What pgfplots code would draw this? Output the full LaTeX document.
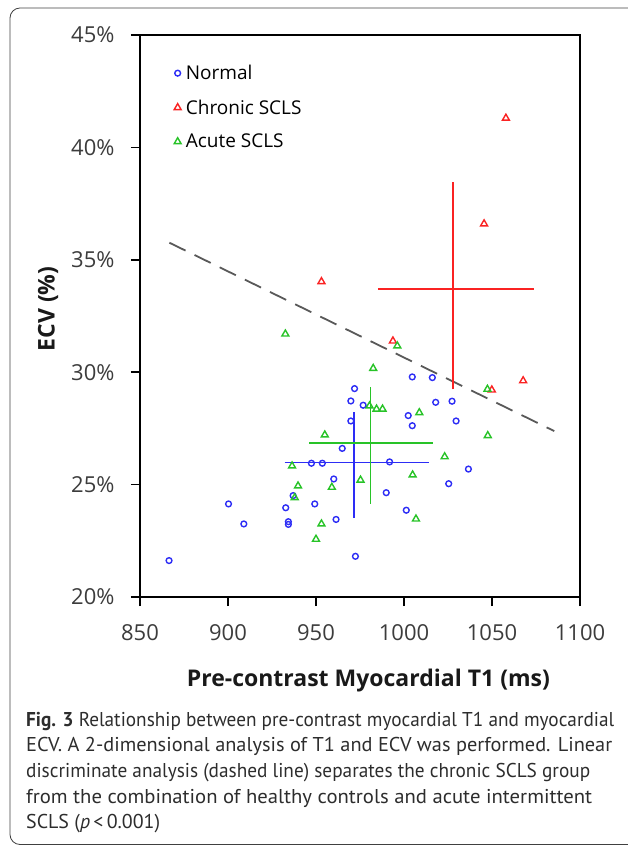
\documentclass[border=0pt]{standalone}
\usepackage{fontspec}
\setmainfont{Open Sans}
\newfontfamily\capfont{PT Sans}
\usepackage{graphicx}
\usepackage{pgfplots}
\pgfplotsset{compat=1.18}
\usepackage{pgfplotstable}

\definecolor{nblue}{RGB}{45,45,245}
\definecolor{cred}{RGB}{250,35,35}
\definecolor{agreen}{RGB}{40,195,40}
\definecolor{ticktxt}{RGB}{60,60,60}
\definecolor{captxt}{RGB}{45,45,45}

% T1 (ms) vs ECV (%)
\pgfplotstableread{
t1 ecv
1004.7 29.79
1016.1 29.76
971.9 29.27
969.8 28.72
976.8 28.53
1018.0 28.66
1027.3 28.71
1002.4 28.07
969.8 27.83
1004.7 27.62
1029.6 27.83
964.9 26.61
947.4 25.95
953.6 25.95
991.8 26.01
1036.6 25.69
960.1 25.25
1025.4 25.04
989.9 24.64
937.0 24.51
900.3 24.14
949.3 24.14
932.8 23.97
1001.3 23.86
909.0 23.25
934.3 23.35
934.3 23.23
961.4 23.45
972.4 21.81
866.5 21.62
}\normaldata

\pgfplotstableread{
t1 ecv
953.1 34.03
993.7 31.39
1045.5 36.60
1057.9 41.30
1049.9 29.21
1067.7 29.62
}\chronicdata

\pgfplotstableread{
t1 ecv
932.6 31.70
996.2 31.17
982.5 30.17
1047.4 29.24
980.4 28.50
984.4 28.36
987.8 28.36
1008.7 28.20
955.0 27.21
1047.6 27.18
1023.1 26.24
936.4 25.83
1004.9 25.43
975.3 25.20
939.8 24.94
959.0 24.88
937.9 24.42
953.1 23.25
1006.8 23.47
950.0 22.57
}\acutedata

\newcommand{\capline}[2]{\resizebox{#1}{\height}{#2}}

\begin{document}
\begin{tikzpicture}
\useasboundingbox (0,0) rectangle (627pt,846pt);
\draw[rounded corners=10pt, line width=0.8pt, black!75] (10pt,1.5pt) rectangle (650pt,838pt);

\begin{axis}[
  at={(140pt,249pt)}, anchor=south west,
  width=440pt, height=562pt, scale only axis,
  xmin=850, xmax=1100, ymin=20, ymax=45,
  xtick={850,900,...,1100}, ytick={20,25,...,45},
  yticklabel={\pgfmathprintnumber{\tick}\%},
  /pgf/number format/assume math mode=true,
  /pgf/number format/1000 sep={},
  axis line style={line width=1.8pt},
  tick style={line width=1.6pt, black},
  tick align=outside, major tick length=9pt,
  xtick pos=bottom, ytick pos=left,
  ticklabel style={font=\fontsize{22}{26}\selectfont, text=ticktxt},
  xticklabel style={yshift=-15pt},
  yticklabel style={xshift=-13pt},
  xlabel={Pre-contrast Myocardial T1 (ms)},
  ylabel={ECV (\%)},
  xlabel style={font=\fontsize{23}{27}\selectfont\bfseries, text=black!90,
    at={(axis description cs:0.519,-0.160)}, anchor=base},
  ylabel style={font=\fontsize{23}{27}\selectfont\bfseries, text=black!90,
    at={(axis description cs:-0.209,0.5125)}, anchor=center},
  legend style={at={(axis description cs:0,1)}, anchor=north west,
    draw=none, fill=none, font=\fontsize{19}{23}\selectfont,
    row sep=14.5pt, xshift=31pt, yshift=-26pt},
  legend cell align=left,
  legend image code/.code={\draw[#1] plot coordinates {(0pt,0pt)}; \path (6pt,0pt);},
]

% discriminant line
\addplot[forget plot, draw=black!65, line width=1.8pt, dash pattern=on 18pt off 10pt]
  coordinates {(866.7,35.76) (1085.4,27.38)};

% mean +/- SD crosses
\addplot[forget plot, draw=nblue, line width=1.6pt] coordinates {(932.2,25.98) (1014.4,25.98)};
\addplot[forget plot, draw=nblue, line width=1.6pt] coordinates {(971.7,23.51) (971.7,28.24)};
\addplot[forget plot, draw=cred, line width=1.6pt] coordinates {(985.1,33.69) (1074.0,33.69)};
\addplot[forget plot, draw=cred, line width=1.6pt] coordinates {(1027.9,29.24) (1027.9,38.47)};
\addplot[forget plot, draw=agreen, line width=1.6pt] coordinates {(946.2,26.86) (1016.3,26.86)};
\addplot[forget plot, draw=agreen, line width=1.6pt] coordinates {(981.0,24.14) (981.0,29.35)};

\addplot[only marks, mark=o, mark size=2.9pt, draw=nblue,
  mark options={line width=1.4pt}] table[x=t1, y=ecv] {\normaldata};
\addlegendentry{Normal}
\addplot[only marks, mark=triangle, mark size=4pt, draw=cred,
  mark options={line width=1.4pt}] table[x=t1, y=ecv] {\chronicdata};
\addlegendentry{Chronic SCLS}
\addplot[only marks, mark=triangle, mark size=4pt, draw=agreen,
  mark options={line width=1.4pt}] table[x=t1, y=ecv] {\acutedata};
\addlegendentry{Acute SCLS}
\end{axis}

\node[anchor=base west, align=left, inner sep=0pt, text=captxt,
  font=\capfont\fontsize{20}{25.7}\selectfont] at (26pt,17pt)
  {\capline{588pt}{{\bfseries Fig. 3} Relationship between pre-contrast myocardial T1 and myocardial}\\
   \capline{586pt}{ECV. A 2-dimensional analysis of T1 and ECV was performed. Linear}\\
   \capline{564pt}{discriminate analysis (dashed line) separates the chronic SCLS group}\\
   \capline{566pt}{from the combination of healthy controls and acute intermittent}\\
   \capline{134pt}{SCLS (\textit{p}\,<\,0.001)}};
\end{tikzpicture}
\end{document}
